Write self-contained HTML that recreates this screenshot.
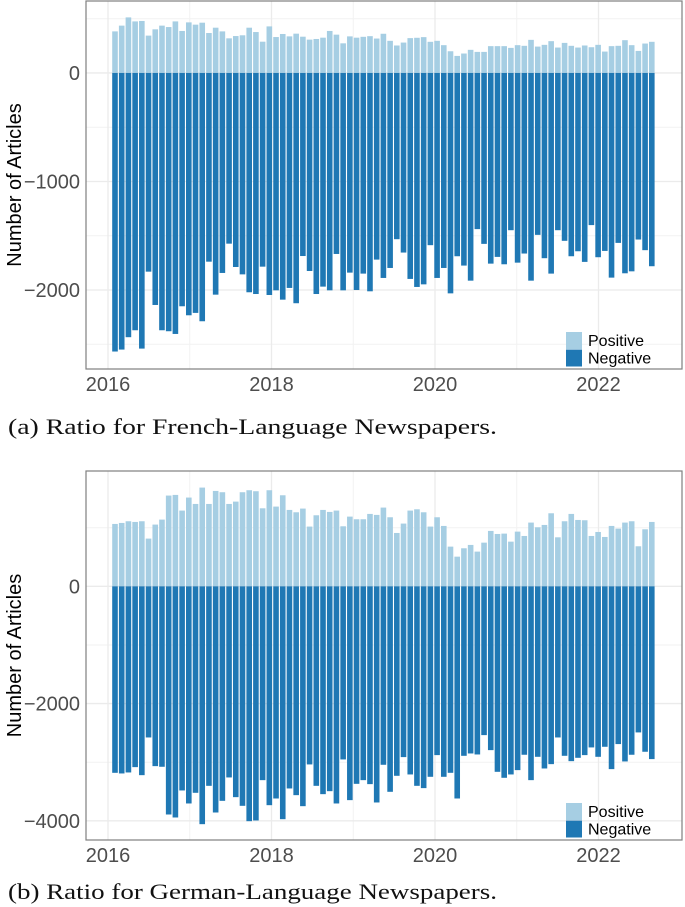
<!DOCTYPE html>
<html><head><meta charset="utf-8">
<style>
body{margin:0;background:#fff;width:685px;height:907px;overflow:hidden;font-family:"Liberation Sans",sans-serif;}
</style></head>
<body>
<svg id="chart" width="685" height="907" style="position:absolute;left:0;top:0">
<g id="chartA"></g>
<g id="chartB"></g>
<text x="8" y="434" font-family="Liberation Serif, serif" font-size="22" fill="#111" textLength="489" lengthAdjust="spacingAndGlyphs">(a)  Ratio for French-Language Newspapers.</text>
<text x="8" y="899" font-family="Liberation Serif, serif" font-size="22" fill="#111" textLength="489" lengthAdjust="spacingAndGlyphs">(b)  Ratio for German-Language Newspapers.</text>
</svg>
<script>
const yearTicks=[2016,2018,2020,2022];
const yTicksA=[0,-1000,-2000];
const yTicksB=[0,-2000,-4000];
const frPositive=[383,436,512,475,479,344,402,436,423,475,387,466,445,463,368,417,383,319,340,347,417,377,288,429,331,359,337,362,334,307,313,325,387,353,273,337,325,
333,339,317,361,296,253,280,321,324,330,287,296,256,200,157,179,213,194,194,247,247,247,231,256,250,305,243,259,293,234,277,250,234,253,237,259,197,247,250,302,256,203,271,287];
const frNegative=[-2567,-2549,-2435,-2371,-2540,-1831,-2138,-2371,-2380,-2405,-2150,-2233,-2211,-2288,-1739,-2043,-1843,-1573,-1788,-1856,-2021,-2037,-1785,-2046,-2003,-2089,-1981,-2122,-1687,-1825,-2037,-1969,-2003,-1668,-2003,-1840,-2000,
-1849,-2012,-1720,-1889,-1797,-1532,-1655,-1898,-1972,-1948,-1587,-1889,-1797,-2031,-1689,-1775,-1914,-1439,-1575,-1757,-1695,-1763,-1449,-1748,-1664,-1914,-1492,-1707,-1849,-1449,-1547,-1689,-1643,-1741,-1402,-1698,-1640,-1886,-1566,-1846,-1828,-1535,-1633,-1781];
const dePositive=[1064,1081,1110,1098,1110,814,1053,1138,1548,1559,1292,1514,1405,1684,1405,1627,1605,1405,1445,1605,1639,1622,1331,1639,1360,1553,1303,1263,1326,1019,1212,1303,1269,1292,1024,1189,1144,
1144,1235,1218,1343,1178,910,1070,1292,1314,1263,1019,1178,1030,677,506,649,706,592,745,945,893,899,762,933,859,1087,1007,1047,1246,836,1110,1235,1132,1127,859,927,842,1030,984,1087,1110,683,973,1098];
const deNegative=[-3181,-3192,-3175,-3084,-3221,-2578,-3067,-3078,-3892,-3943,-3482,-3704,-3522,-4057,-3403,-3858,-3659,-3260,-3596,-3744,-4006,-3994,-3306,-3733,-3619,-3972,-3448,-3562,-3750,-3038,-3403,-3545,-3494,-3704,-2953,-3647,-3369,
-3306,-3374,-3687,-3044,-3505,-3232,-2913,-3209,-3403,-3442,-3249,-2879,-3249,-3181,-3619,-2891,-2851,-2868,-2538,-2794,-3164,-3266,-3209,-3135,-2873,-3306,-2908,-3107,-3033,-2578,-2891,-2982,-2925,-2879,-2748,-2908,-2737,-3118,-2691,-2987,-2873,-2492,-2822,-2947];

const NS='http://www.w3.org/2000/svg';
function mk(p,t,a){const e=document.createElementNS(NS,t);for(const k in a)e.setAttribute(k,a[k]);p.appendChild(e);return e;}
const xYear=y=>108+(y-2016)*81.75;
const xMonth=i=>xYear(2016)+7+i*6.71;
function draw(g,cfg){
  const {top,bottom,vmax,vmin,pos,neg,yt,minor}=cfg;
  const y=v=>top+(vmax-v)/(vmax-vmin)*(bottom-top);
  const L=86,R=682;
  minor.forEach(v=>{const l=mk(g,'line',{x1:L,x2:R,y1:y(v),y2:y(v),stroke:'#f2f2f2','stroke-width':1});
    });
  [2017,2019,2021].forEach(yr=>{const l=mk(g,'line',{x1:xYear(yr),x2:xYear(yr),y1:top,y2:bottom,stroke:'#f2f2f2','stroke-width':1});
    });
  yt.forEach(v=>{const l=mk(g,'line',{x1:L,x2:R,y1:y(v),y2:y(v),stroke:'#ebebeb','stroke-width':1.3});
    
    const t=mk(g,'text',{x:80,y:y(v)+7,'text-anchor':'end','font-size':20,fill:'#4d4d4d'});t.textContent=String(v).replace('-','\u2212');
    });
  yearTicks.forEach(yr=>{const l=mk(g,'line',{x1:xYear(yr),x2:xYear(yr),y1:top,y2:bottom,stroke:'#ebebeb','stroke-width':1.3});
    
    const t=mk(g,'text',{x:xYear(yr),y:bottom+22,'text-anchor':'middle','font-size':20,fill:'#4d4d4d'});t.textContent=yr;
    });
  pos.forEach((v,i)=>{const r=mk(g,'rect',{x:xMonth(i)-2.8,y:y(v),width:5.6,height:y(0)-y(v),fill:'#a6cee3'});
    });
  neg.forEach((v,i)=>{const r=mk(g,'rect',{x:xMonth(i)-2.8,y:y(0),width:5.6,height:y(v)-y(0),fill:'#1f78b4'});
    });
  const b=mk(g,'rect',{x:L,y:top,width:R-L,height:bottom-top,fill:'none',stroke:'#7f7f7f','stroke-width':1.2});
  
  const cy=(top+bottom)/2;
  const tt=mk(g,'text',{x:0,y:0,transform:`translate(21,${cy}) rotate(-90)`,'text-anchor':'middle','font-size':20,fill:'#000'});
  tt.textContent='Number of Articles';
  const ly=bottom-37;
  const lg=mk(g,'g',{});
  [['Positive','#a6cee3'],['Negative','#1f78b4']].forEach((d,k)=>{
    const e=mk(lg,'g',{});
    mk(e,'rect',{x:566,y:ly+k*17.5,width:16,height:17,fill:d[1]});
    const t=mk(e,'text',{x:588,y:ly+k*17.5+14,'font-size':16,fill:'#000'});t.textContent=d[0];});
}
draw(document.getElementById('chartA'),{top:1,bottom:369,vmax:663,vmin:-2728,pos:frPositive,neg:frNegative,yt:yTicksA,minor:[500,-500,-1500,-2500]});
draw(document.getElementById('chartB'),{top:471,bottom:840,vmax:1967,vmin:-4327,pos:dePositive,neg:deNegative,yt:yTicksB,minor:[1000,-1000,-3000]});
</script>
</body></html>
